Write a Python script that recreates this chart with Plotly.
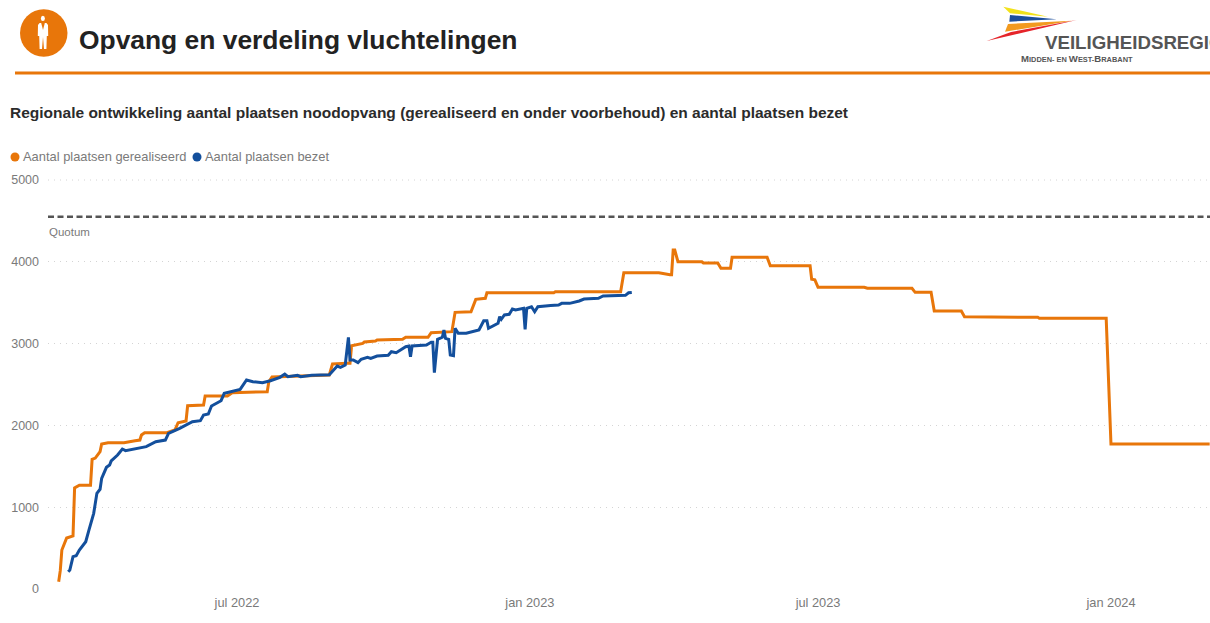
import plotly.graph_objects as go

# Values
realised_dates = ["2022-03-11","2022-03-12","2022-03-13","2022-03-16","2022-03-20","2022-03-21","2022-03-24","2022-03-31","2022-04-01","2022-04-03","2022-04-06","2022-04-07","2022-04-11","2022-04-21","2022-04-28","2022-05-01","2022-05-02","2022-05-04","2022-05-18","2022-05-23","2022-05-25","2022-05-30","2022-05-31","2022-06-10","2022-06-11","2022-06-25","2022-06-28","2022-07-20","2022-07-21","2022-07-23","2022-08-28","2022-08-30","2022-09-08","2022-09-10","2022-09-11","2022-09-18","2022-09-19","2022-09-26","2022-09-27","2022-10-13","2022-10-15","2022-10-29","2022-10-31","2022-11-13","2022-11-15","2022-11-25","2022-11-28","2022-12-04","2022-12-05","2023-01-16","2023-01-17","2023-02-27","2023-03-01","2023-03-23","2023-03-30","2023-03-31","2023-04-01","2023-04-02","2023-04-04","2023-04-19","2023-04-20","2023-04-29","2023-05-01","2023-05-07","2023-05-08","2023-05-30","2023-06-01","2023-06-26","2023-06-27","2023-06-29","2023-07-01","2023-07-30","2023-08-01","2023-08-29","2023-08-31","2023-09-10","2023-09-12","2023-09-29","2023-10-01","2023-11-03","2023-11-04","2023-11-16","2023-11-17","2023-12-29","2024-01-01","2024-03-03"]
realised_values = [89,224,477,623,648,1235,1268,1268,1585,1600,1680,1773,1788,1788,1813,1821,1883,1911,1911,1944,2033,2054,2240,2249,2359,2359,2400,2412,2534,2592,2616,2751,2759,2759,2974,3002,3019,3032,3044,3052,3077,3077,3134,3146,3382,3390,3541,3553,3622,3622,3634,3634,3866,3866,3842,3842,4144,4144,4001,4001,3985,3985,3920,3920,4055,4055,3952,3952,3786,3780,3688,3688,3676,3676,3627,3627,3398,3398,3329,3329,3321,3321,3309,3309,1773,1773]

occupied_dates = ["2022-03-17","2022-03-18","2022-03-20","2022-03-22","2022-03-24","2022-03-28","2022-03-30","2022-04-02","2022-04-04","2022-04-06","2022-04-07","2022-04-10","2022-04-12","2022-04-13","2022-04-17","2022-04-20","2022-04-22","2022-04-29","2022-05-05","2022-05-11","2022-05-17","2022-05-19","2022-05-26","2022-06-03","2022-06-08","2022-06-10","2022-06-13","2022-06-15","2022-06-21","2022-06-23","2022-06-28","2022-07-03","2022-07-07","2022-07-11","2022-07-17","2022-07-22","2022-07-28","2022-07-31","2022-08-02","2022-08-08","2022-08-10","2022-08-17","2022-08-28","2022-08-31","2022-09-02","2022-09-04","2022-09-07","2022-09-09","2022-09-10","2022-09-12","2022-09-15","2022-09-17","2022-09-21","2022-09-23","2022-09-27","2022-10-04","2022-10-06","2022-10-09","2022-10-15","2022-10-17","2022-10-18","2022-10-19","2022-10-28","2022-10-31","2022-11-01","2022-11-02","2022-11-03","2022-11-04","2022-11-07","2022-11-08","2022-11-09","2022-11-11","2022-11-12","2022-11-14","2022-11-15","2022-11-17","2022-11-22","2022-11-30","2022-12-03","2022-12-05","2022-12-06","2022-12-12","2022-12-13","2022-12-14","2022-12-16","2022-12-19","2022-12-21","2022-12-23","2022-12-28","2022-12-29","2022-12-30","2023-01-02","2023-01-04","2023-01-06","2023-01-14","2023-01-19","2023-01-21","2023-01-26","2023-02-01","2023-02-04","2023-02-13","2023-02-16","2023-03-02","2023-03-04","2023-03-06"]
occupied_values = [211,232,395,407,477,578,721,925,1170,1219,1353,1488,1516,1565,1638,1711,1691,1720,1740,1801,1821,1903,1964,2045,2058,2127,2139,2237,2302,2392,2412,2441,2555,2534,2522,2546,2588,2628,2595,2612,2595,2612,2620,2686,2726,2710,2738,3077,2800,2800,2767,2808,2832,2820,2848,2857,2901,2889,2962,2971,2840,2971,2983,3016,3016,2644,2840,3052,3077,3166,3064,3052,2861,2852,3187,3126,3126,3166,3280,3280,3187,3248,3329,3297,3350,3358,3423,3411,3431,3175,3431,3451,3390,3451,3467,3472,3492,3492,3521,3545,3553,3582,3590,3622,3626]

quota_value = 4550
x_range = ["2022-03-04 07:00", "2024-03-03 05:00"]
y_range = [-12.2, 5012.2]
x_tick_dates = ["2022-07-01", "2023-01-01", "2023-07-01", "2024-01-01"]
x_tick_labels = ["jul 2022", "jan 2023", "jul 2023", "jan 2024"]
y_ticks = [0, 1000, 2000, 3000, 4000, 5000]

ORANGE = "#E8760A"
BLUE = "#134F9C"
GREY = "#7a7a7a"
GRID = "#d4d4d4"
FONT = "Liberation Sans"

# Page layout: pixel -> paper helpers for header decoration
PL, PR, PT, PB = 48, 1210, 179, 590
def px(x): return (x - PL) / (PR - PL)
def py(y): return (PB - y) / (PB - PT)
def poly(points):
    return "M " + " L ".join(f"{px(a):.5f},{py(b):.5f}" for a, b in points) + " Z"

def label(x, y, text, size, color, bold=False):
    return dict(xref="paper", yref="paper", x=px(x), y=py(y), text=f"<b>{text}</b>" if bold else text,
                showarrow=False, xanchor="left", yanchor="middle", align="left",
                font=dict(family=FONT, size=size, color=color), borderpad=0, borderwidth=0)

def small_cap(letter):
    return f"<span style='font-size:9.6px'>{letter}</span>"

fig = go.Figure()
fig.add_trace(go.Scatter(x=x_range, y=[quota_value, quota_value], mode="lines", name="Quotum",
                         line=dict(color="#555555", width=2.5, dash="6px,3.5px"), showlegend=False))
fig.add_trace(go.Scatter(x=realised_dates, y=realised_values, mode="lines", name="Aantal plaatsen gerealiseerd",
                         line=dict(color=ORANGE, width=3), showlegend=False))
fig.add_trace(go.Scatter(x=occupied_dates, y=occupied_values, mode="lines", name="Aantal plaatsen bezet",
                         line=dict(color=BLUE, width=3), showlegend=False))

def fill(path, color):
    return dict(type="path", xref="paper", yref="paper", fillcolor=color, line=dict(width=0), path=path)

def dot(x0, x1, y0, y1, color):
    return dict(type="circle", xref="paper", yref="paper", x0=px(x0), x1=px(x1), y0=py(y1), y1=py(y0),
                fillcolor=color, line=dict(width=0))

shapes = [
    dict(type="line", xref="paper", yref="y", x0=0, x1=1, y0=y_ticks[-1], y1=y_ticks[-1], layer="below",
         line=dict(color=GRID, width=1, dash="1px,5px")),
    dict(type="line", xref="paper", yref="paper", x0=px(15), x1=px(1210), y0=py(73), y1=py(73),
         line=dict(color=ORANGE, width=3)),
    dot(20, 67.5, 9.3, 56.8, ORANGE),
    dot(40.9, 44.9, 15.8, 21, "white"),
    fill(poly([(39.6, 23), (46.4, 23), (48, 25), (48.2, 36), (46.8, 36), (46.4, 49), (44, 49), (43, 37), (42, 49), (39.6, 49), (39.2, 36), (37.8, 36), (38, 25)]), "white"),
    fill(poly([(41.2, 23), (44.8, 23), (43, 30)]), ORANGE),
    fill(poly([(1003.3, 6.7), (1048, 16.7), (1010, 13.3)]), "#F2E21B"),
    fill(poly([(1010, 15), (1056.7, 19.3), (1009.3, 21.7)]), "#1D4F9C"),
    fill(poly([(1008, 24), (1072, 20.7), (1005, 31.7)]), "#F29A1F"),
    fill(poly([(1076.7, 20), (986.7, 41), (1011, 32)]), "#E5242A"),
    dot(10.5, 19.5, 152.5, 161.5, ORANGE),
    dot(192.5, 201.5, 152.5, 161.5, BLUE),
]

annotations = [
    label(79, 40.5, "Opvang en verdeling vluchtelingen", 26.4, "#222222", True),
    label(10, 113, "Regionale ontwikkeling aantal plaatsen noodopvang (gerealiseerd en onder voorbehoud) en aantal plaatsen bezet", 15.5, "#2b2b2b", True),
    label(23, 156.5, "Aantal plaatsen gerealiseerd", 12.9, GREY),
    label(205, 156.5, "Aantal plaatsen bezet", 12.9, GREY),
    label(49, 232, "Quotum", 11.5, GREY),
    label(1045, 43, "VEILIGHEIDSREGIO", 18.7, "#555555", True),
    label(1021, 59, f"{small_cap('M')}IDDEN- EN {small_cap('W')}EST-{small_cap('B')}RABANT", 7.4, "#555555", True),
]

fig.update_layout(
    width=1210, height=623, autosize=False,
    margin=dict(l=PL, r=0, t=PT, b=623 - PB, pad=0),
    paper_bgcolor="white", plot_bgcolor="white",
    font=dict(family=FONT, size=12, color=GREY),
    shapes=shapes, annotations=annotations, showlegend=False,
    xaxis=dict(type="date", range=x_range, tickvals=x_tick_dates, ticktext=x_tick_labels,
               showgrid=False, zeroline=False, showline=False, ticks="", ticklabelstandoff=3,
               tickfont=dict(size=12.8, color=GREY, family=FONT)),
    yaxis=dict(range=y_range, tickvals=y_ticks, showgrid=True, gridcolor=GRID, griddash="1px,5px",
               gridwidth=1, zeroline=False, showline=False, ticks="", ticklabelstandoff=8,
               tickfont=dict(size=12.5, color=GREY, family=FONT), tickformat="d"),
)

fig.write_html("out.html", config=dict(displayModeBar=False),
               post_script="document.body.style.margin='0';document.body.style.overflow='hidden';")
